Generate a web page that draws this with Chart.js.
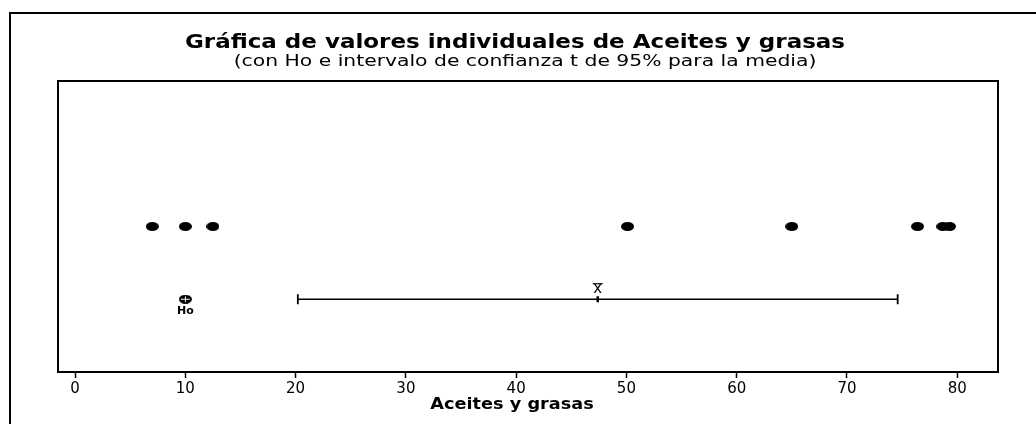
<!DOCTYPE html>
<html>
<head>
<meta charset="utf-8">
<script src="https://cdn.jsdelivr.net/npm/chart.js@4/dist/chart.umd.min.js"></script>
<style>
  html, body { margin: 0; padding: 0; background: #fff; }
  #wrap { width: 1036px; height: 424px; }
</style>
</head>
<body>
<div id="wrap"><canvas id="chart" width="1036" height="424"></canvas></div>
<script>
'use strict';

// ── Data ─────────────────────────────────────────────────────────────────────
const values     = [7.0, 10.0, 12.5, 50.1, 65.0, 76.4, 78.7, 79.3];  // individual values
const hoValue    = 10;
const ciLow      = 20.2;
const ciHigh     = 74.6;
const meanValue  = 47.4;
const xTicks     = [0, 10, 20, 30, 40, 50, 60, 70, 80];
const xMin       = -1.55;
const xMax       = 83.7;
const rowValues  = 2;   // row of the individual values
const rowCI      = 1;   // row of Ho and the interval

const titleText    = 'Gráfica de valores individuales de Aceites y grasas';
const subtitleText = '(con Ho e intervalo de confianza t de 95% para la media)';
const xTitleText   = 'Aceites y grasas';

const FONT = 'DejaVu Sans, Verdana, sans-serif';

// ── Marker images ────────────────────────────────────────────────────────────

function ellipseImage(w, h, cross) {
  const c = document.createElement('canvas');
  c.width = w; c.height = h;
  const g = c.getContext('2d');
  g.fillStyle = '#000';
  g.beginPath();
  g.ellipse(w / 2, h / 2, w / 2, h / 2, 0, 0, Math.PI * 2);
  g.fill();
  if (cross) {
    g.strokeStyle = '#fff';
    g.lineWidth = 1;
    g.beginPath();
    g.moveTo(w / 2, 1.5); g.lineTo(w / 2, h - 1.5);
    g.moveTo(2, h / 2);   g.lineTo(w - 2, h / 2);
    g.stroke();
  }
  return c;
}

const dotImg = ellipseImage(13, 9, false);
const hoImg  = ellipseImage(13, 9, true);

// ── Decorations: frame, titles, plot box, labels ─────────────────────────────
// Titles are drawn here, stretched sideways: the original lettering is a
// good deal wider than DejaVu Sans.

function wideText(ctx, text, cx, cy, font, sx) {
  ctx.save();
  ctx.translate(cx, cy);
  ctx.scale(sx, 1);
  ctx.font = font;
  ctx.textAlign = 'center';
  ctx.textBaseline = 'middle';
  ctx.fillStyle = '#000';
  ctx.fillText(text, 0, 0);
  ctx.restore();
}

const decor = {
  id: 'decor',
  beforeDraw(ch) {
    const ctx = ch.ctx;
    ctx.save();
    ctx.strokeStyle = '#000';
    ctx.lineWidth = 2;
    ctx.beginPath();
    ctx.moveTo(10, ch.height + 2);
    ctx.lineTo(10, 13);
    ctx.lineTo(ch.width + 2, 13);
    ctx.stroke();
    ctx.restore();

    wideText(ctx, titleText, 515, 43, 'bold 19px ' + FONT, 1.21);
    wideText(ctx, subtitleText, 525, 62, '16px ' + FONT, 1.27);
    wideText(ctx, xTitleText, 512, 405, 'bold 15px ' + FONT, 1.18);
  },
  afterDraw(ch) {
    const { ctx, chartArea: a } = ch;
    const x = ch.scales.x, y = ch.scales.y;
    ctx.save();
    ctx.strokeStyle = '#000';
    ctx.lineWidth = 2;
    ctx.strokeRect(a.left, a.top, a.right - a.left, a.bottom - a.top);

    ctx.fillStyle = '#000';
    ctx.textAlign = 'center';
    ctx.textBaseline = 'top';
    ctx.font = 'bold 11px ' + FONT;
    ctx.fillText('Ho', x.getPixelForValue(hoValue), y.getPixelForValue(rowCI) + 6);

    ctx.textBaseline = 'bottom';
    ctx.font = '15px ' + FONT;
    const mx = x.getPixelForValue(meanValue), my = y.getPixelForValue(rowCI);
    ctx.fillText('x', mx, my - 3);
    ctx.lineWidth = 1.2;
    ctx.beginPath();
    ctx.moveTo(mx - 5, my - 15.5);
    ctx.lineTo(mx + 5, my - 15.5);
    ctx.stroke();
    ctx.restore();
  }
};

// ── Chart ────────────────────────────────────────────────────────────────────

new Chart(document.getElementById('chart'), {
  type: 'scatter',
  data: {
    datasets: [
      {
        label: 'valores',
        data: values.map(v => ({ x: v, y: rowValues })),
        pointStyle: dotImg
      },
      {
        label: 'IC',
        data: [{ x: ciLow, y: rowCI }, { x: ciHigh, y: rowCI }],
        showLine: true,
        borderColor: '#000',
        borderWidth: 1.5,
        pointStyle: 'line',
        rotation: 90,
        pointRadius: 5,
        pointBorderWidth: 1.8,
        pointBorderColor: '#000'
      },
      {
        label: 'media',
        data: [{ x: meanValue, y: rowCI }],
        pointStyle: 'line',
        rotation: 90,
        pointRadius: 3,
        pointBorderWidth: 2.5,
        pointBorderColor: '#000'
      },
      {
        label: 'Ho',
        data: [{ x: hoValue, y: rowCI }],
        pointStyle: hoImg
      }
    ]
  },
  options: {
    responsive: false,
    animation: false,
    layout: { padding: { left: 58, right: 38, top: 81, bottom: 24 } },
    plugins: {
      legend: { display: false },
      tooltip: { enabled: false },
      title: { display: false },
      subtitle: { display: false }
    },
    scales: {
      x: {
        type: 'linear',
        min: xMin,
        max: xMax,
        afterBuildTicks: s => { s.ticks = xTicks.map(v => ({ value: v })); },
        grid: { drawOnChartArea: false, drawTicks: true, tickLength: 6, tickColor: '#000', tickWidth: 1.5 },
        border: { display: false },
        ticks: { color: '#000', padding: 2, font: { family: FONT, size: 15 } },
        title: { display: false }
      },
      y: {
        type: 'linear',
        min: 0,
        max: 4,
        display: false
      }
    }
  },
  plugins: [decor]
});
</script>
</body>
</html>
